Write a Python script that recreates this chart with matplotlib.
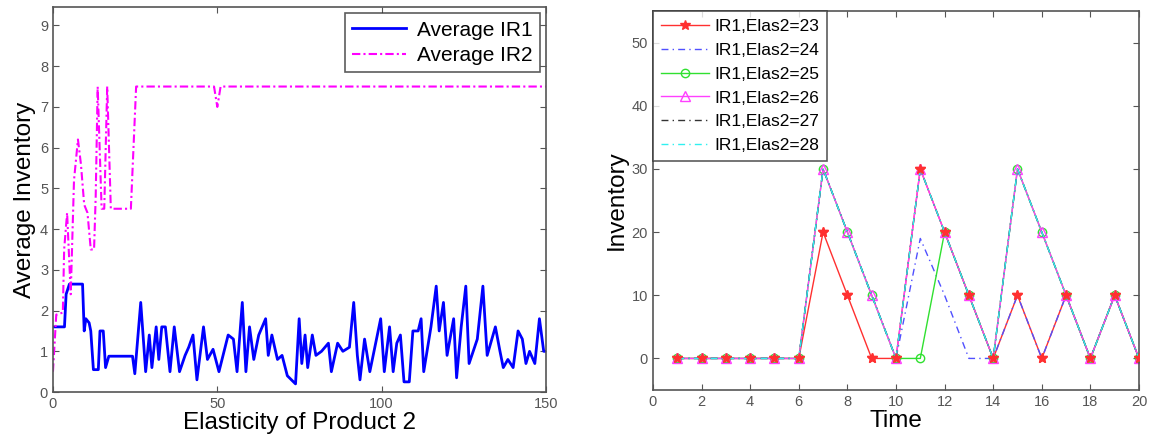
import matplotlib
matplotlib.use("Agg")
import matplotlib.pyplot as plt

plt.rcParams['font.family'] = ['Liberation Sans', 'DejaVu Sans']

# ---- Left panel data (breakpoints) ----
ir1_x = [0, 3.5, 4, 5, 9, 9.5, 10, 11, 11.5, 12.3, 13.8, 14.3, 15.3, 16, 17, 24.2,
         24.9, 26.7, 28.2, 29.3, 30.1, 31.4, 32.2, 33.1, 34.2, 35.6, 36.9, 38.5, 40.2,
         41.3, 42.6, 43.8, 45.8, 47, 48.7, 50.5, 53.3, 54.9, 56, 57.6, 58.7, 59.8, 61.1,
         62.6, 64.7, 65.5, 66.6, 68.3, 69.7, 71.3, 73.8, 74.9, 75.7, 76.7, 77.5, 78.9,
         80, 81.7, 83.8, 84.7, 86.6, 88.2, 90.2, 91.5, 92.6, 93.4, 94.8, 96.4, 99.7,
         100.8, 102.4, 103.5, 104.6, 105.7, 106.8, 108.4, 109.5, 111.1, 112, 112.8, 115,
         116.6, 117.5, 118.8, 119.9, 121.9, 122.8, 124.2, 125.6, 126.6, 129.1, 130.8,
         132.1, 134.6, 136, 137, 138.4, 140, 141.5, 142.8, 143.9, 145, 146.6, 148,
         149.3, 150]
ir1_y = [1.6, 1.6, 2.4, 2.65, 2.65, 1.5, 1.8, 1.7, 1.5, 0.55, 0.55, 1.5, 1.5, 0.6, 0.88, 0.88,
         0.45, 2.2, 0.5, 1.4, 0.6, 1.6, 0.8, 1.6, 1.6, 0.5, 1.6, 0.5, 0.9,
         1.1, 1.4, 0.3, 1.6, 0.8, 1.05, 0.5, 1.4, 1.3, 0.5, 2.2, 0.5, 1.6, 0.8,
         1.4, 1.8, 0.9, 1.4, 0.8, 0.9, 0.4, 0.2, 1.8, 0.7, 1.4, 0.6, 1.4,
         0.9, 1.0, 1.2, 0.5, 1.2, 1.0, 1.1, 2.2, 0.9, 0.3, 1.3, 0.5, 1.8,
         0.5, 1.6, 0.5, 1.2, 1.4, 0.25, 0.25, 1.5, 1.5, 1.8, 0.5, 1.6,
         2.6, 1.5, 2.2, 0.9, 1.8, 0.35, 1.6, 2.6, 0.7, 1.3, 2.6,
         0.9, 1.6, 1.0, 0.6, 0.8, 0.6, 1.5, 1.3, 0.7, 1.0, 0.7, 1.8,
         1.0, 1.0]

ir2_x = [0, 1, 3, 3.4, 4.3, 5.4, 6.4, 7.6, 8.5, 9.5, 10.5, 11.5, 12.5, 13, 13.6, 14.8,
         15.6, 16.5, 17.6, 23.7, 25.3, 49, 50, 51, 150]
ir2_y = [0.5, 1.9, 1.95, 3.5, 4.4, 2.4, 5.2, 6.2, 5.6, 4.6, 4.4, 3.5, 3.5, 4.8, 7.5, 4.5,
         4.5, 7.5, 4.5, 4.5, 7.5, 7.5, 7.0, 7.5, 7.5]

# ---- Right panel data ----
time = list(range(1, 21))
elas23 = [0, 0, 0, 0, 0, 0, 20, 10, 0, 0, 30, 20, 10, 0, 10, 0, 10, 0, 10, 0]
elas24 = [0, 0, 0, 0, 0, 0, 30, 20, 10, 0, 19, 10, 0, 0, 10, 0, 10, 0, 10, 0]
elas25 = [0, 0, 0, 0, 0, 0, 30, 20, 10, 0, 0, 20, 10, 0, 30, 20, 10, 0, 10, 0]
elas26 = [0, 0, 0, 0, 0, 0, 30, 20, 10, 0, 30, 20, 10, 0, 30, 20, 10, 0, 10, 0]
elas27 = [0, 0, 0, 0, 0, 0, 30, 20, 10, 0, 30, 20, 10, 0, 30, 20, 10, 0, 10, 0]
elas28 = [0, 0, 0, 0, 0, 0, 30, 20, 10, 0, 30, 20, 10, 0, 30, 20, 10, 0, 10, 0]
labels_right = ['IR1,Elas2=23', 'IR1,Elas2=24', 'IR1,Elas2=25',
                'IR1,Elas2=26', 'IR1,Elas2=27', 'IR1,Elas2=28']

fig = plt.figure(figsize=(11.49, 4.44), dpi=100)
axc = '#555555'
tickc = '#555555'

def style(ax):
    for s in ax.spines.values():
        s.set_color(axc)
        s.set_linewidth(1.2)
    ax.tick_params(direction='in', top=True, right=True, length=4, colors=axc,
                   labelcolor=tickc, labelsize=10.5)

ax1 = fig.add_axes([0.0461, 0.117, 0.4291, 0.867])
ax1.plot(ir1_x, ir1_y, color='#0000ff', lw=2.0, label='Average IR1')
ax1.plot(ir2_x, ir2_y, color='#ff00ff', lw=1.5, ls=(0, (4, 1.5, 1, 1.5)), label='Average IR2')
ax1.set_xlim(0, 150)
ax1.set_ylim(0, 9.45)
ax1.set_xticks([0, 50, 100, 150])
ax1.set_yticks(range(0, 10))
ax1.set_xlabel('Elasticity of Product 2', fontsize=17.5, labelpad=1)
ax1.set_ylabel('Average Inventory', fontsize=17.5, labelpad=3)
style(ax1)
leg1 = ax1.legend(loc='upper right', fontsize=15, frameon=True, fancybox=False,
                  edgecolor='#333333', handlelength=2.6, borderaxespad=0.3,
                  labelspacing=0.3, borderpad=0.35, handletextpad=0.5)
leg1.get_frame().set_linewidth(1.2)

ax2 = fig.add_axes([0.5683, 0.1216, 0.4230, 0.8534])
ax2.plot(time, elas23, color='#ff3030', lw=1.0, marker='*', ms=7,
         label=labels_right[0])
ax2.plot(time, elas24, color='#5050ff', lw=1.0, ls=(0, (5, 3, 1, 3)), label=labels_right[1])
ax2.plot(time, elas25, color='#30e030', lw=1.0, marker='o', ms=6, mfc='none',
         label=labels_right[2])
ax2.plot(time, elas26, color='#ff40ff', lw=1.0, marker='^', ms=7, mfc='none',
         label=labels_right[3])
ax2.plot(time, elas27, color='#333333', lw=1.0, ls=(0, (5, 3, 1, 3)), label=labels_right[4])
ax2.plot(time, elas28, color='#30f0f0', lw=1.0, ls=(0, (5, 3, 1, 3)), label=labels_right[5])
# red star markers sit on top of the other marks in the reference
ax2.plot(time, elas23, ls='none', color='#ff3030', marker='*', ms=7, zorder=5)
ax2.set_xlim(0, 20)
ax2.set_ylim(-5, 55)
ax2.set_xticks(range(0, 21, 2))
ax2.set_yticks(range(0, 51, 10))
ax2.set_xlabel('Time', fontsize=17.5, labelpad=1)
ax2.set_ylabel('Inventory', fontsize=17.5, labelpad=3)
style(ax2)
leg2 = ax2.legend(loc='upper left', fontsize=12.5, frameon=True, fancybox=False,
                  edgecolor='#333333', handlelength=2.8, borderaxespad=0.0,
                  labelspacing=0.5, borderpad=0.45, handletextpad=0.3)
leg2.get_frame().set_linewidth(1.2)

fig.savefig('out.png', dpi=100)
